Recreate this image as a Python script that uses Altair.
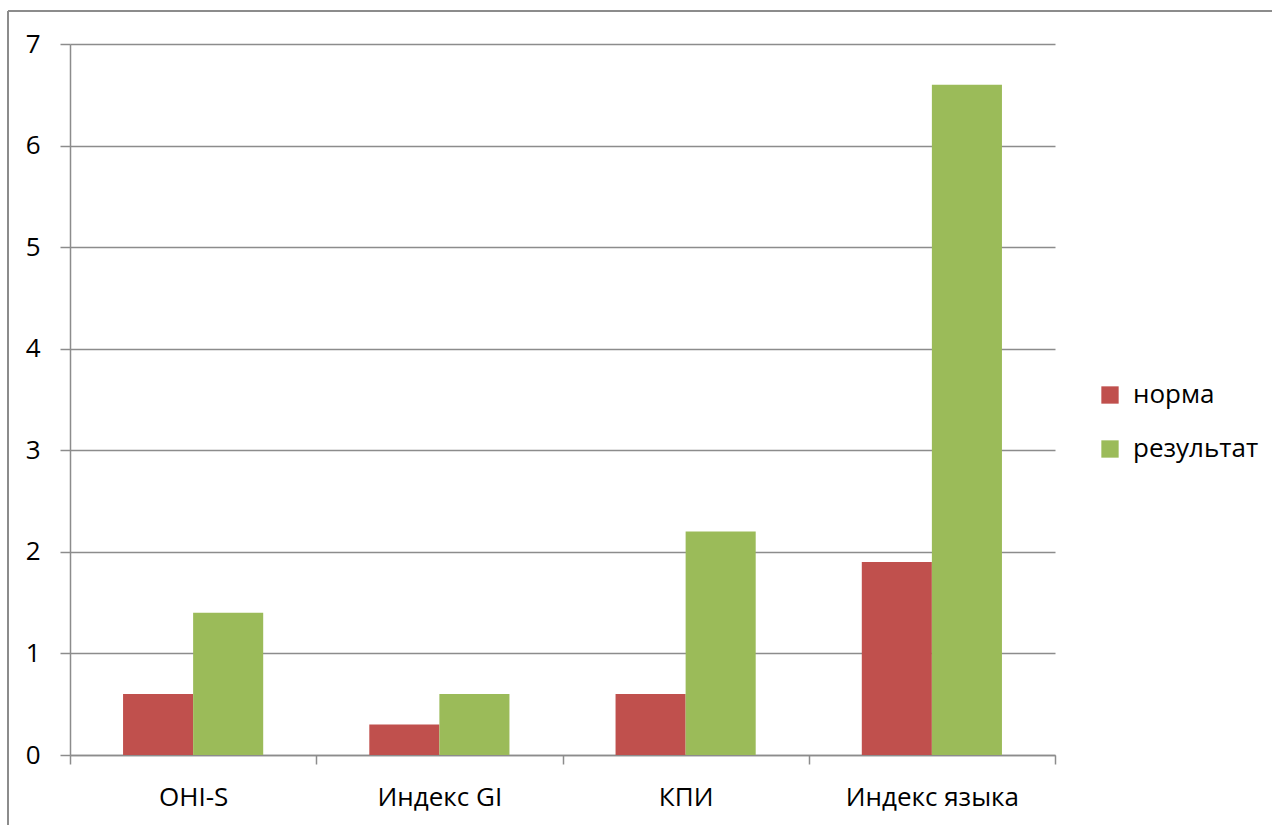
import altair as alt
import pandas as pd

categories = ["OHI-S", "Индекс GI", "КПИ", "Индекс языка"]
series_names = ["норма", "результат"]
norma = [0.6, 0.3, 0.6, 1.9]
rezultat = [1.4, 0.6, 2.2, 6.6]
colors = ["#C0504D", "#9BBB59"]
y_ticks = [0, 1, 2, 3, 4, 5, 6, 7]

rows = []
for i, c in enumerate(categories):
    rows.append({"cat": c, "series": series_names[0], "value": norma[i]})
    rows.append({"cat": c, "series": series_names[1], "value": rezultat[i]})
df = pd.DataFrame(rows)

FONT = "Open Sans"
GRID = "#8c8c8c"
FS = 26

bars = alt.Chart(df).mark_bar().encode(
    x=alt.X("cat:N", sort=categories, title=None,
            scale=alt.Scale(paddingInner=0, paddingOuter=0),
            axis=alt.Axis(labelAngle=0, tickBand="extent", tickSize=9,
                          tickColor=GRID, tickWidth=1.5, domainColor=GRID,
                          domainWidth=1.5, labelFontSize=FS, labelFont=FONT,
                          labelColor="#000000", labelPadding=20, grid=False)),
    xOffset=alt.XOffset("series:N", sort=series_names,
                        scale=alt.Scale(paddingInner=0, paddingOuter=0.757)),
    y=alt.Y("value:Q", title=None,
            scale=alt.Scale(domain=[0, 7], nice=False),
            axis=alt.Axis(values=y_ticks, tickSize=10, tickColor=GRID,
                          tickWidth=1.5, domainColor=GRID, domainWidth=1.5,
                          gridColor=GRID, gridWidth=1.5, labelFontSize=FS,
                          labelFont=FONT, labelColor="#000000",
                          labelPadding=20)),
    color=alt.Color("series:N", sort=series_names,
                    scale=alt.Scale(domain=series_names, range=colors),
                    legend=alt.Legend(title=None, orient="none",
                                      legendX=1027, legendY=338,
                                      symbolType="square", symbolSize=300,
                                      symbolStrokeWidth=0,
                                      labelFontSize=FS, labelFont=FONT,
                                      labelColor="#000000", rowPadding=28,
                                      labelOffset=10)),
)

border_top = alt.Chart(df).mark_rule(color=GRID, strokeWidth=2).encode(
    x=alt.value(-62), x2=alt.value(1300), y=alt.value(-33))
border_left = alt.Chart(df).mark_rule(color=GRID, strokeWidth=2).encode(
    x=alt.value(-62), y=alt.value(-33), y2=alt.value(900))

chart = alt.layer(bars, border_top, border_left).properties(
    width=985, height=711,
    padding={"left": 70, "top": 44, "right": 217, "bottom": 70},
    autosize=alt.AutoSizeParams(type="none"),
    background="white",
).configure_view(stroke=None)

chart.save("out.html", embed_options={"renderer": "svg", "actions": False})
